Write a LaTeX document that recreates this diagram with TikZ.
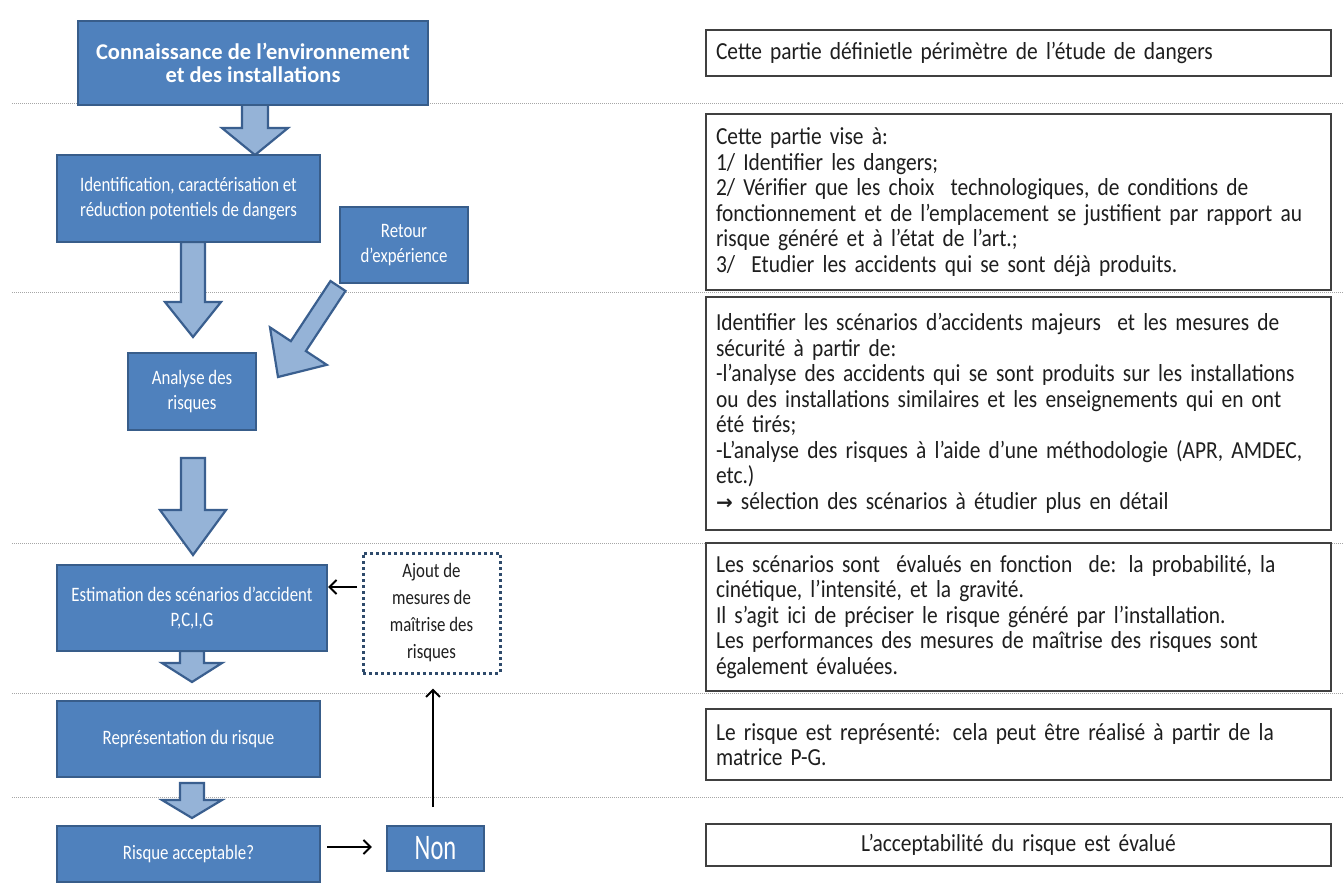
\documentclass[tikz,border=0pt]{standalone}
\usepackage{fontspec}
\setmainfont{Carlito}
\newfontfamily\narrowfont[FakeStretch=0.82]{Carlito}
\newfontfamily\notefont[FakeStretch=0.875]{Carlito}
\newfontfamily\nonfont[FakeStretch=0.68]{Carlito}
\newfontfamily\symfont{DejaVu Sans}
\usetikzlibrary{calc,arrows.meta}
\definecolor{boxblue}{HTML}{4F81BD}
\definecolor{boxedge}{HTML}{385D8A}
\definecolor{arrfill}{HTML}{95B3D7}
\definecolor{arredge}{HTML}{3A5F8F}
\definecolor{dotblue}{HTML}{2E4A6B}
\definecolor{sepgray}{HTML}{A6A6A6}
\definecolor{txt}{HTML}{1E1E1E}
\tikzset{
 bluebox/.style={draw=boxedge, line width=2.2pt, fill=boxblue, text=white, inner sep=0pt, align=center, font=\narrowfont\fontsize{20.5}{25.5}\selectfont},
 notebox/.style={draw=black!75, line width=1.5pt, fill=white, text=txt, minimum width=625pt, inner xsep=10pt, inner ysep=0pt, text width=605pt, align=left, font=\notefont\fontsize{24.5}{25.5}\selectfont},
 sepline/.style={sepgray, line width=1pt, dash pattern=on 1pt off 1pt},
 blockarrow/.style={draw=arredge, line width=2.2pt, fill=arrfill, line join=miter},
 thinarrow/.style={-{Straight Barb[length=7pt,width=14pt,line width=2pt]}, line width=2pt, black},
 dotbox/.style={draw=dotblue, line width=3pt, dash pattern=on 3pt off 3pt, fill=white, align=center, text=txt, inner sep=0pt, font=\narrowfont\fontsize{20.5}{27}\selectfont},
}
\newcommand\blockarr[5]{%
  \coordinate (hb) at ($(#2)!#5!(#1)$);
  \draw[blockarrow] ($(#1)!#3!90:(#2)$) -- ($(hb)!#3!90:(#2)$) -- ($(hb)!#4!90:(#2)$) -- (#2)
    -- ($(hb)!#4!-90:(#2)$) -- ($(hb)!#3!-90:(#2)$) -- ($(#1)!#3!-90:(#2)$) -- cycle;
}
\begin{document}
\begin{tikzpicture}[x=1pt,y=-1pt]
\useasboundingbox (0,0) rectangle (1344,883);
\fill[white] (0,0) rectangle (1344,883);
% separator lines
\foreach \yy in {103,292,543,693,797} \draw[sepline] (12,\yy) -- (1344,\yy);
% right notes
\node[notebox, minimum height=46pt] (r1) at (1018.5,53) {Cette partie définietle périmètre de l’étude de dangers};
\node[notebox, minimum height=176pt] (r2) at (1018.5,202) {Cette partie vise à:\\1/ Identifier les dangers;\\2/ Vérifier que les choix~~technologiques, de conditions de\\fonctionnement et de l’emplacement se justifient par rapport au\\risque généré et à l’état de l’art.;\\3/~~Etudier les accidents qui se sont déjà produits.};
\node[notebox, minimum height=233pt] (r3) at (1018.5,413.5) {Identifier les scénarios d’accidents majeurs~~et les mesures de\\sécurité à partir de:\\-l’analyse des accidents qui se sont produits sur les installations\\ou des installations similaires et les enseignements qui en ont\\été tirés;\\-L’analyse des risques à l’aide d’une méthodologie (APR, AMDEC,\\etc.)\\{\symfont\fontsize{20}{25.5}\selectfont\bfseries →} sélection des scénarios à étudier plus en détail};
\node[notebox, minimum height=148pt] (r4) at (1018.5,617) {Les scénarios sont~~évalués en fonction~~de: la probabilité, la\\cinétique, l’intensité, et la gravité.\\Il s’agit ici de préciser le risque généré par l’installation.\\Les performances des mesures de maîtrise des risques sont\\également évaluées.};
\node[notebox, minimum height=71pt] (r5) at (1018.5,744.5) {Le risque est représenté: cela peut être réalisé à partir de la\\matrice P-G.};
\node[notebox, minimum height=42pt, align=center] (r6) at (1018.5,845) {L’acceptabilité du risque est évalué};
% block arrows
\coordinate (a1s) at (255,104); \coordinate (a1e) at (255,155);
\coordinate (a2s) at (193,242); \coordinate (a2e) at (193,337);
\coordinate (a3s) at (338,286); \coordinate (a3e) at (278,377);
\coordinate (a4s) at (193,458); \coordinate (a4e) at (193,555);
\coordinate (a5s) at (192,651); \coordinate (a5e) at (192,682);
\coordinate (a6s) at (192,783); \coordinate (a6e) at (192,818);
\blockarr{a1s}{a1e}{13pt}{33pt}{27pt}
\blockarr{a2s}{a2e}{12pt}{28pt}{35pt}
\blockarr{a3s}{a3e}{9pt}{34pt}{37pt}
\blockarr{a4s}{a4e}{12pt}{33pt}{45pt}
\blockarr{a5s}{a5e}{12pt}{30pt}{19pt}
\blockarr{a6s}{a6e}{12pt}{30pt}{18pt}
% blue boxes
\node[bluebox, minimum width=350pt, minimum height=84pt, font=\fontsize{22.5}{23}\selectfont\bfseries] (c1) at (253,63) {Connaissance de l’environnement\\et des installations};
\node[bluebox, minimum width=263pt, minimum height=87pt] (c2) at (188.5,198.5) {Identification, caractérisation et\\réduction potentiels de dangers};
\node[bluebox, minimum width=128pt, minimum height=76pt] (ret) at (404,245) {Retour\\d’expérience};
\node[bluebox, minimum width=128pt, minimum height=77pt] (ana) at (192,391.5) {Analyse des\\risques};
\node[bluebox, minimum width=270pt, minimum height=86pt] (est) at (192,608) {Estimation des scénarios d’accident\\P,C,I,G};
\node[bluebox, minimum width=263pt, minimum height=76pt] (rep) at (188.5,739) {Représentation du risque};
\node[bluebox, minimum width=263pt, minimum height=56pt] (acc) at (188.5,854) {Risque acceptable?};
\node[bluebox, minimum width=97pt, minimum height=45pt, font=\nonfont\fontsize{36}{38}\selectfont] (non) at (435.5,848.5) {Non};
\node[dotbox, minimum width=137pt, minimum height=120pt] (dot) at (431.5,613) {Ajout de\\mesures de\\maîtrise des\\risques};
% thin arrows
\coordinate (fb) at (357,587);
\draw[thinarrow] (fb) -- (fb -| est.east);
\coordinate (ra) at ($(acc.east)+(6,-7)$);
\coordinate (rb) at ($(non.west)+(-14,-1.5)$);
\draw[thinarrow] (ra) -- (ra -| rb);
\coordinate (nu) at (433,807);
\draw[thinarrow] (nu) -- ($(nu |- dot.south)+(0,14)$);
\end{tikzpicture}
\end{document}
